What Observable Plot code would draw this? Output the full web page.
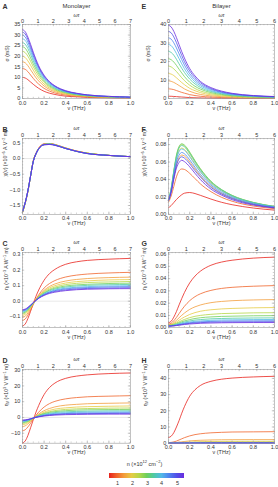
<!DOCTYPE html>
<html><head><meta charset="utf-8">
<script src="https://cdn.jsdelivr.net/npm/d3@7"></script>
<script src="https://cdn.jsdelivr.net/npm/@observablehq/plot@0.6"></script>
<style>
body{margin:0;background:#fff;}
#fig{position:relative;width:278px;height:487px;overflow:hidden;background:#fff;font-family:"Liberation Sans",Arial,sans-serif;color:#333;}
#fig > svg, #fig > div{position:absolute;}
#legendLabel{font-size:5.5px;text-align:center;white-space:nowrap;}
#legendLabel sup{font-size:4px;line-height:0;}
</style></head><body><div id="fig"></div>
<script>
// ---------- data ----------
const nu = [0, 0.025, 0.05, 0.075, 0.1, 0.125, 0.15, 0.2, 0.25, 0.3, 0.4, 0.5, 0.6, 0.8, 1.0];
const nVals = [0.5, 1, 1.5, 2, 2.5, 3, 3.5, 4, 4.5, 5, 5.5];

const sigmaMono = [
 [10, 9.7, 8.9, 7.8, 6.7, 5.7, 4.8, 3.4, 2.5, 1.9, 1.1, 0.8, 0.5, 0.3, 0.2],
 [14.2, 13.8, 12.7, 11.1, 9.5, 8.0, 6.8, 4.8, 3.5, 2.6, 1.6, 1.1, 0.8, 0.4, 0.3],
 [17.4, 16.9, 15.5, 13.6, 11.7, 9.8, 8.3, 5.9, 4.3, 3.2, 2.0, 1.3, 0.9, 0.5, 0.3],
 [20, 19.4, 17.8, 15.7, 13.4, 11.3, 9.5, 6.8, 4.9, 3.7, 2.3, 1.5, 1.1, 0.6, 0.4],
 [22.4, 21.7, 20.0, 17.6, 15.0, 12.7, 10.7, 7.6, 5.5, 4.1, 2.5, 1.7, 1.2, 0.7, 0.4],
 [24.5, 23.8, 21.8, 19.2, 16.4, 13.9, 11.7, 8.3, 6.0, 4.5, 2.8, 1.8, 1.3, 0.8, 0.5],
 [26.5, 25.7, 23.6, 20.8, 17.8, 15.0, 12.6, 9.0, 6.5, 4.9, 3.0, 2.0, 1.4, 0.8, 0.5],
 [28.3, 27.5, 25.2, 22.2, 19.0, 16.0, 13.5, 9.6, 7.0, 5.2, 3.2, 2.1, 1.5, 0.9, 0.6],
 [30, 29.1, 26.7, 23.5, 20.1, 17.0, 14.3, 10.1, 7.4, 5.6, 3.4, 2.3, 1.6, 0.9, 0.6],
 [31.4, 30.5, 28.0, 24.6, 21.1, 17.8, 14.9, 10.6, 7.7, 5.8, 3.5, 2.4, 1.7, 1.0, 0.6],
 [32.6, 31.6, 29.0, 25.6, 21.9, 18.5, 15.5, 11.0, 8.0, 6.0, 3.7, 2.5, 1.7, 1.0, 0.7]
];
const sigmaBi = [
 [1.2, 1.2, 1.1, 1.0, 0.9, 0.8, 0.7, 0.5, 0.4, 0.3, 0.2, 0.1, 0.1, 0.05, 0.03],
 [5.2, 5.1, 4.8, 4.3, 3.8, 3.3, 2.9, 2.1, 1.6, 1.2, 0.8, 0.5, 0.4, 0.2, 0.14],
 [9.5, 9.3, 8.7, 7.9, 7.0, 6.1, 5.2, 3.9, 2.9, 2.2, 1.4, 1.0, 0.7, 0.4, 0.26],
 [13.5, 13.2, 12.4, 11.2, 9.9, 8.6, 7.5, 5.5, 4.2, 3.2, 2.0, 1.4, 1.0, 0.6, 0.36],
 [17.5, 17.1, 16.0, 14.6, 12.9, 11.2, 9.7, 7.2, 5.4, 4.1, 2.6, 1.8, 1.3, 0.7, 0.47],
 [21.5, 21.0, 19.7, 17.9, 15.8, 13.8, 11.9, 8.8, 6.6, 5.1, 3.2, 2.2, 1.5, 0.9, 0.58],
 [25.5, 24.9, 23.4, 21.2, 18.7, 16.3, 14.1, 10.5, 7.9, 6.0, 3.8, 2.6, 1.8, 1.1, 0.69],
 [29.2, 28.6, 26.8, 24.3, 21.5, 18.7, 16.1, 12.0, 9.0, 6.9, 4.3, 2.9, 2.1, 1.2, 0.79],
 [32.8, 32.1, 30.1, 27.3, 24.1, 21.0, 18.1, 13.4, 10.1, 7.7, 4.9, 3.3, 2.3, 1.4, 0.89],
 [36.3, 35.5, 33.3, 30.2, 26.7, 23.2, 20.0, 14.9, 11.2, 8.6, 5.4, 3.6, 2.6, 1.5, 0.98],
 [39.6, 38.7, 36.3, 32.9, 29.1, 25.3, 21.9, 16.2, 12.2, 9.3, 5.9, 4.0, 2.8, 1.6, 1.07]
];
const chiMono = [
 [-1.73, -1.43, -1.05, -0.55, -0.07, 0.17, 0.33, 0.47, 0.48, 0.45, 0.34, 0.24, 0.17, 0.10, 0.06],
 [-1.72, -1.43, -1.05, -0.55, -0.07, 0.17, 0.33, 0.46, 0.48, 0.44, 0.33, 0.24, 0.17, 0.10, 0.06],
 [-1.72, -1.42, -1.04, -0.55, -0.08, 0.16, 0.32, 0.46, 0.47, 0.44, 0.33, 0.24, 0.17, 0.10, 0.06],
 [-1.71, -1.42, -1.04, -0.55, -0.08, 0.16, 0.32, 0.45, 0.47, 0.44, 0.33, 0.23, 0.17, 0.10, 0.06],
 [-1.71, -1.42, -1.04, -0.55, -0.08, 0.16, 0.32, 0.45, 0.47, 0.44, 0.33, 0.23, 0.17, 0.10, 0.06],
 [-1.71, -1.42, -1.04, -0.55, -0.08, 0.16, 0.32, 0.45, 0.47, 0.44, 0.33, 0.23, 0.17, 0.10, 0.06],
 [-1.70, -1.41, -1.03, -0.55, -0.09, 0.15, 0.31, 0.45, 0.46, 0.43, 0.32, 0.23, 0.16, 0.10, 0.06],
 [-1.70, -1.41, -1.03, -0.55, -0.09, 0.15, 0.31, 0.45, 0.46, 0.43, 0.32, 0.23, 0.16, 0.10, 0.06],
 [-1.70, -1.41, -1.03, -0.55, -0.09, 0.15, 0.31, 0.44, 0.46, 0.43, 0.32, 0.23, 0.16, 0.10, 0.06],
 [-1.70, -1.41, -1.03, -0.55, -0.09, 0.15, 0.31, 0.44, 0.45, 0.43, 0.32, 0.23, 0.16, 0.10, 0.06],
 [-1.69, -1.40, -1.02, -0.55, -0.09, 0.15, 0.31, 0.44, 0.45, 0.42, 0.32, 0.23, 0.16, 0.10, 0.06]
];
const chiBi = [
 [0.0075, 0.0100, 0.0135, 0.0170, 0.0200, 0.0225, 0.0242, 0.0250, 0.0238, 0.0218, 0.0175, 0.0138, 0.0110, 0.0072, 0.0048],
 [0.014, 0.021, 0.032, 0.043, 0.050, 0.052, 0.0515, 0.047, 0.041, 0.035, 0.026, 0.0195, 0.015, 0.0095, 0.0065],
 [0.016, 0.026, 0.042, 0.057, 0.065, 0.068, 0.067, 0.060, 0.052, 0.044, 0.032, 0.024, 0.0185, 0.0115, 0.0078],
 [0.016, 0.028, 0.047, 0.064, 0.073, 0.076, 0.0745, 0.067, 0.058, 0.049, 0.036, 0.027, 0.0205, 0.013, 0.0086],
 [0.016, 0.029, 0.049, 0.067, 0.077, 0.080, 0.0785, 0.0705, 0.061, 0.052, 0.0375, 0.028, 0.0215, 0.0135, 0.009],
 [0.016, 0.030, 0.050, 0.068, 0.078, 0.081, 0.0795, 0.0715, 0.0615, 0.0525, 0.038, 0.0285, 0.0218, 0.0137, 0.0091],
 [0.016, 0.029, 0.049, 0.066, 0.076, 0.079, 0.0775, 0.0695, 0.060, 0.051, 0.037, 0.028, 0.0213, 0.0134, 0.0089],
 [0.016, 0.028, 0.047, 0.063, 0.072, 0.075, 0.0735, 0.066, 0.057, 0.049, 0.035, 0.0265, 0.0203, 0.0128, 0.0085],
 [0.016, 0.027, 0.045, 0.060, 0.068, 0.071, 0.0695, 0.0625, 0.054, 0.046, 0.0335, 0.025, 0.0192, 0.0121, 0.0081],
 [0.016, 0.026, 0.042, 0.056, 0.0635, 0.066, 0.0645, 0.058, 0.050, 0.043, 0.031, 0.0233, 0.018, 0.0113, 0.0076],
 [0.016, 0.025, 0.040, 0.053, 0.0595, 0.062, 0.0605, 0.0545, 0.047, 0.040, 0.029, 0.022, 0.0168, 0.0106, 0.0072]
];
const etaIMono = [
 [-0.160, -0.147, -0.112, -0.065, -0.015, 0.032, 0.072, 0.135, 0.178, 0.205, 0.238, 0.254, 0.263, 0.271, 0.276],
 [-0.125, -0.115, -0.090, -0.057, -0.021, 0.013, 0.041, 0.085, 0.114, 0.133, 0.156, 0.168, 0.175, 0.182, 0.186],
 [-0.105, -0.097, -0.076, -0.048, -0.018, 0.010, 0.034, 0.070, 0.095, 0.111, 0.130, 0.140, 0.146, 0.152, 0.155],
 [-0.092, -0.085, -0.066, -0.041, -0.014, 0.010, 0.032, 0.064, 0.086, 0.100, 0.117, 0.126, 0.131, 0.137, 0.139],
 [-0.083, -0.077, -0.060, -0.037, -0.013, 0.010, 0.029, 0.059, 0.078, 0.091, 0.107, 0.115, 0.120, 0.124, 0.127],
 [-0.077, -0.071, -0.056, -0.034, -0.012, 0.009, 0.026, 0.053, 0.072, 0.084, 0.098, 0.105, 0.109, 0.114, 0.116],
 [-0.071, -0.066, -0.051, -0.032, -0.011, 0.008, 0.025, 0.050, 0.067, 0.078, 0.091, 0.098, 0.102, 0.106, 0.108],
 [-0.066, -0.061, -0.048, -0.030, -0.010, 0.007, 0.023, 0.046, 0.061, 0.072, 0.084, 0.090, 0.094, 0.098, 0.100],
 [-0.062, -0.057, -0.045, -0.028, -0.010, 0.007, 0.021, 0.043, 0.058, 0.068, 0.079, 0.085, 0.088, 0.092, 0.094],
 [-0.058, -0.054, -0.042, -0.026, -0.009, 0.006, 0.020, 0.040, 0.054, 0.063, 0.073, 0.079, 0.082, 0.085, 0.087],
 [-0.055, -0.051, -0.040, -0.025, -0.009, 0.005, 0.018, 0.037, 0.050, 0.058, 0.068, 0.074, 0.077, 0.080, 0.081]
];
const etaIBi = [
 [0.0040, 0.0052, 0.0086, 0.0132, 0.0186, 0.0238, 0.0286, 0.0365, 0.0421, 0.0460, 0.0509, 0.0535, 0.0550, 0.0567, 0.0575],
 [0.0030, 0.0037, 0.0057, 0.0084, 0.0115, 0.0146, 0.0174, 0.0220, 0.0253, 0.0276, 0.0304, 0.0320, 0.0329, 0.0338, 0.0343],
 [0.0025, 0.0030, 0.0042, 0.0060, 0.0081, 0.0101, 0.0119, 0.0149, 0.0170, 0.0185, 0.0204, 0.0214, 0.0220, 0.0226, 0.0229],
 [0.0022, 0.0025, 0.0034, 0.0047, 0.0061, 0.0075, 0.0087, 0.0108, 0.0123, 0.0134, 0.0146, 0.0153, 0.0157, 0.0162, 0.0164],
 [0.0020, 0.0022, 0.0029, 0.0038, 0.0048, 0.0058, 0.0067, 0.0082, 0.0093, 0.0100, 0.0109, 0.0115, 0.0117, 0.0121, 0.0122],
 [0.0018, 0.0020, 0.0025, 0.0032, 0.0040, 0.0048, 0.0055, 0.0066, 0.0075, 0.0081, 0.0088, 0.0092, 0.0094, 0.0097, 0.0098],
 [0.0016, 0.0017, 0.0021, 0.0027, 0.0033, 0.0040, 0.0046, 0.0055, 0.0062, 0.0066, 0.0072, 0.0075, 0.0077, 0.0079, 0.0080],
 [0.0015, 0.0016, 0.0019, 0.0024, 0.0029, 0.0034, 0.0039, 0.0046, 0.0052, 0.0055, 0.0060, 0.0063, 0.0064, 0.0066, 0.0067],
 [0.0014, 0.0015, 0.0018, 0.0021, 0.0026, 0.0030, 0.0034, 0.0040, 0.0044, 0.0048, 0.0051, 0.0054, 0.0055, 0.0056, 0.0057],
 [0.0013, 0.0014, 0.0016, 0.0019, 0.0023, 0.0026, 0.0030, 0.0035, 0.0039, 0.0041, 0.0045, 0.0046, 0.0047, 0.0048, 0.0049],
 [0.0012, 0.0013, 0.0015, 0.0017, 0.0020, 0.0023, 0.0026, 0.0030, 0.0033, 0.0036, 0.0038, 0.0040, 0.0041, 0.0042, 0.0042]
];
const etaVMono = [
 [-16.3, -14.9, -11.4, -6.5, -1.4, 3.4, 7.6, 14.5, 19.0, 21.8, 24.8, 26.2, 27.0, 27.8, 28.2],
 [-8.5, -7.8, -6.0, -3.6, -1.0, 1.4, 3.4, 6.6, 8.8, 10.2, 11.8, 12.6, 13.1, 13.5, 13.8],
 [-5.8, -5.3, -4.1, -2.5, -0.8, 0.8, 2.2, 4.3, 5.7, 6.7, 7.8, 8.3, 8.7, 9.0, 9.2],
 [-4.6, -4.2, -3.3, -2.0, -0.6, 0.6, 1.7, 3.4, 4.5, 5.3, 6.1, 6.6, 6.85, 7.1, 7.3],
 [-3.8, -3.5, -2.7, -1.6, -0.5, 0.5, 1.4, 2.8, 3.7, 4.35, 5.1, 5.45, 5.65, 5.9, 6.0],
 [-3.3, -3.0, -2.4, -1.4, -0.5, 0.4, 1.2, 2.4, 3.2, 3.7, 4.3, 4.65, 4.85, 5.0, 5.1],
 [-2.8, -2.6, -2.0, -1.2, -0.4, 0.3, 1.0, 2.0, 2.6, 3.1, 3.6, 3.85, 4.0, 4.2, 4.25],
 [-2.4, -2.2, -1.7, -1.1, -0.4, 0.25, 0.8, 1.6, 2.2, 2.6, 3.0, 3.25, 3.4, 3.5, 3.6],
 [-2.1, -1.9, -1.5, -1.0, -0.4, 0.2, 0.6, 1.35, 1.8, 2.15, 2.5, 2.7, 2.8, 2.95, 3.0],
 [-1.9, -1.75, -1.4, -0.9, -0.4, 0.1, 0.5, 1.15, 1.55, 1.85, 2.2, 2.35, 2.45, 2.55, 2.6],
 [-1.6, -1.5, -1.2, -0.8, -0.35, 0.05, 0.4, 0.9, 1.25, 1.5, 1.8, 1.9, 2.0, 2.1, 2.1]
];
const etaVBi = [
 [3.5, 4.3, 6.5, 10.0, 14.0, 18.5, 22.5, 29.0, 33.0, 35.6, 38.2, 39.5, 40.2, 40.9, 41.3],
 [0.4, 0.5, 0.8, 1.3, 2.0, 2.7, 3.4, 4.5, 5.3, 5.8, 6.4, 6.7, 6.9, 7.0, 7.1],
 [0.2, 0.2, 0.3, 0.45, 0.65, 0.85, 1.05, 1.4, 1.65, 1.8, 2.0, 2.1, 2.15, 2.2, 2.2],
 [0.1, 0.1, 0.15, 0.25, 0.35, 0.45, 0.55, 0.7, 0.85, 0.95, 1.05, 1.1, 1.12, 1.15, 1.15],
 [0.08, 0.09, 0.11, 0.15, 0.2, 0.26, 0.31, 0.4, 0.47, 0.52, 0.58, 0.61, 0.63, 0.65, 0.66],
 [0.06, 0.07, 0.08, 0.11, 0.14, 0.18, 0.21, 0.27, 0.32, 0.35, 0.39, 0.41, 0.42, 0.43, 0.44],
 [0.05, 0.05, 0.06, 0.08, 0.1, 0.13, 0.15, 0.19, 0.22, 0.24, 0.27, 0.28, 0.29, 0.3, 0.3],
 [0.04, 0.04, 0.05, 0.06, 0.08, 0.1, 0.11, 0.14, 0.16, 0.18, 0.2, 0.21, 0.21, 0.22, 0.22],
 [0.03, 0.03, 0.04, 0.05, 0.06, 0.07, 0.08, 0.1, 0.12, 0.13, 0.14, 0.15, 0.15, 0.16, 0.16],
 [0.02, 0.02, 0.03, 0.04, 0.05, 0.05, 0.06, 0.08, 0.09, 0.1, 0.11, 0.11, 0.12, 0.12, 0.12],
 [0.02, 0.02, 0.02, 0.03, 0.03, 0.04, 0.05, 0.06, 0.07, 0.07, 0.08, 0.08, 0.09, 0.09, 0.09]
];

const xTicks = [0, 0.2, 0.4, 0.6, 0.8, 1.0];
const wtTicksMono = [0, 1, 2, 3, 4, 5, 6, 7];
const wtTicksBi = [0, 1, 2, 3, 4, 5, 6];
const yTicksA = [0, 5, 10, 15, 20, 25, 30, 35];
const yTicksE = [0, 10, 20, 30, 40];
const yTicksB = [-1.5, -1.0, -0.5, 0.0, 0.5];
const yTicksF = [0, 0.02, 0.04, 0.06, 0.08];
const yTicksC = [-0.1, 0.0, 0.1, 0.2, 0.3];
const yTicksG = [0, 0.01, 0.02, 0.03, 0.04, 0.05, 0.06];
const yTicksD = [-10, 0, 10, 20, 30];
const yTicksH = [0, 10, 20, 30, 40];
const legendTicks = [1, 2, 3, 4, 5];
const colorStops = ["#e8231d", "#f0652b", "#f39d3b", "#e6cc44", "#b5d748", "#6fcf5b", "#4fcaa6", "#52b9e8", "#4f84ef", "#5152e8", "#6a2ddf"];

// ---------- rendering ----------
const fig = document.getElementById("fig");
const colorScale = {type: "linear", domain: [0.5, 5.5], interpolate: d3.piecewise(d3.interpolateRgb, colorStops)};
const FONT = "'Liberation Sans', Arial, sans-serif";

function toRows(series) {
  return series.flatMap((vals, i) => vals.map((v, j) => ({nu: nu[j], v, n: nVals[i]})));
}

function richText(svg) {
  d3.select(svg).selectAll("text").each(function () {
    const s = this.textContent;
    if (!/[\^_]\{/.test(s)) return;
    const fs = parseFloat(getComputedStyle(this).fontSize) || 5.5;
    const el = d3.select(this);
    el.text(null);
    const re = /([\^_])\{([^}]*)\}/g;
    let last = 0, m, shift = 0;
    const add = (txt, kind) => {
      if (!txt) return;
      const t = el.append("tspan").text(txt);
      const target = kind === "^" ? -0.38 * fs : kind === "_" ? 0.25 * fs : 0;
      const d = target - shift;
      if (d) t.attr("dy", d);
      shift = target;
      if (kind) t.attr("font-size", 0.72 * fs);
    };
    while ((m = re.exec(s))) { add(s.slice(last, m.index), null); add(m[2], m[1]); last = re.lastIndex; }
    add(s.slice(last), null);
  });
}

const rowsY = [[24.3, 98.3], [137.7, 213.5], [252.3, 327.5], [369.3, 443]];
const colsX = [[22, 130], [168, 274]];

const yLabSigma = "σ (mS)";
const yLabChi = "χ(ν) (×10^{−6} A V^{−2} m)";
const yLabEtaI = "η_{I} (×10^{−3} A W^{−1} m)";
const yLabEtaV = "η_{V} (×10^{3} V W^{−1} m)";

const panels = [
  {col: 0, row: 0, series: sigmaMono, yDomain: [0, 35], yTicks: yTicksA, yFmt: "d", yMinor: 1, wtMax: 7, wtTicks: wtTicksMono, letter: "A", title: "Monolayer", yLabel: yLabSigma, zero: false, labDx: -15},
  {col: 1, row: 0, series: sigmaBi, yDomain: [0, 40], yTicks: yTicksE, yFmt: "d", yMinor: 2, wtMax: 6, wtTicks: wtTicksBi, letter: "E", title: "Bilayer", yLabel: yLabSigma, zero: false, labDx: -20.5},
  {col: 0, row: 1, series: chiMono, yDomain: [-1.78, 0.64], yTicks: yTicksB, yFmt: ".1f", yMinor: 0.1, wtMax: 7, wtTicks: wtTicksMono, letter: "B", yLabel: yLabChi, zero: true, labDx: -17},
  {col: 1, row: 1, series: chiBi, yDomain: [0, 0.087], yTicks: yTicksF, yFmt: ".2f", yMinor: 0.005, wtMax: 6, wtTicks: wtTicksBi, letter: "F", yLabel: yLabChi, zero: false, labDx: -24},
  {col: 0, row: 2, series: etaIMono, yDomain: [-0.171, 0.314], yTicks: yTicksC, yFmt: ".1f", yMinor: 0.02, wtMax: 7, wtTicks: wtTicksMono, letter: "C", yLabel: yLabEtaI, zero: true, labDx: -16},
  {col: 1, row: 2, series: etaIBi, yDomain: [0, 0.0613], yTicks: yTicksG, yFmt: ".2f", yMinor: 0.0025, wtMax: 6, wtTicks: wtTicksBi, letter: "G", yLabel: yLabEtaI, zero: false, labDx: -24},
  {col: 0, row: 3, series: etaVMono, yDomain: [-16.3, 30.4], yTicks: yTicksD, yFmt: "d", yMinor: 2, wtMax: 7, wtTicks: wtTicksMono, letter: "D", yLabel: yLabEtaV, zero: true, labDx: -16},
  {col: 1, row: 3, series: etaVBi, yDomain: [0, 45.5], yTicks: yTicksH, yFmt: "d", yMinor: 2, wtMax: 6, wtTicks: wtTicksBi, letter: "H", yLabel: yLabEtaV, zero: false, labDx: -23}
];

for (const p of panels) {
  const [fl, fr] = colsX[p.col];
  const [ft, fb] = rowsY[p.row];
  const svgLeft = p.col === 0 ? 0 : 139;
  const W = 139, mt = 24, mb = 15;
  const ml = fl - svgLeft, mr = svgLeft + W - fr;
  const innerW = fr - fl, innerH = fb - ft;
  const tk = {stroke: "#9a9a9a", strokeWidth: 0.5};
  const wtPos = p.wtTicks.map(t => t / p.wtMax);
  const wtMinor = d3.range(0, p.wtMax * 5 + 1).map(k => k / (p.wtMax * 5));
  const xMinor = d3.range(0, 21).map(k => k / 20);
  const y0 = Math.ceil(p.yDomain[0] / p.yMinor - 1e-6), y1 = Math.floor(p.yDomain[1] / p.yMinor + 1e-6);
  const yMinor = d3.range(y0, y1 + 1).map(k => k * p.yMinor);
  const MAJ = 2.2, MIN = 1.2;
  const marks = [];
  if (p.zero) marks.push(Plot.ruleY([0], {stroke: "#d8d8d8", strokeWidth: 0.6}));
  marks.push(Plot.line(toRows(p.series), {x: "nu", y: "v", z: "n", stroke: "n", strokeWidth: 0.8, curve: "monotone-x"}));
  // inward frame ticks
  marks.push(Plot.tickX(xTicks, {x: d => d, insetTop: innerH - MAJ, ...tk}));
  marks.push(Plot.tickX(xMinor, {x: d => d, insetTop: innerH - MIN, ...tk}));
  marks.push(Plot.tickX(wtPos, {x: d => d, insetBottom: innerH - MAJ, ...tk}));
  marks.push(Plot.tickX(wtMinor, {x: d => d, insetBottom: innerH - MIN, ...tk}));
  marks.push(Plot.tickY(p.yTicks, {y: d => d, insetRight: innerW - MAJ, ...tk}));
  marks.push(Plot.tickY(yMinor, {y: d => d, insetRight: innerW - MIN, ...tk}));
  marks.push(Plot.tickY(p.yTicks, {y: d => d, insetLeft: innerW - MAJ, ...tk}));
  marks.push(Plot.tickY(yMinor, {y: d => d, insetLeft: innerW - MIN, ...tk}));
  marks.push(Plot.frame({stroke: "#9a9a9a", strokeWidth: 0.6}));
  // axes (labels only)
  marks.push(Plot.axisX(xTicks, {anchor: "bottom", tickSize: 0, tickPadding: 2.2, tickFormat: ".1f", label: null}));
  marks.push(Plot.axisX(wtPos, {anchor: "top", tickSize: 0, tickPadding: 1.6, tickFormat: (d, i) => String(p.wtTicks[i]), label: null}));
  marks.push(Plot.axisY(p.yTicks, {anchor: "left", tickSize: 0, tickPadding: 2.2, tickFormat: p.yFmt, label: null}));
  // texts
  marks.push(Plot.text(["ν (THz)"], {frameAnchor: "bottom", dy: 11.2, fontSize: 5.5}));
  marks.push(Plot.text(["ωτ"], {frameAnchor: "top", dy: p.row === 0 ? -10.8 : -11.8, fontSize: 5.3, fontStyle: "italic"}));
  marks.push(Plot.text([p.yLabel], {frameAnchor: "left", dx: p.labDx, rotate: -90, fontSize: 5.2}));
  marks.push(Plot.text([p.letter], {frameAnchor: "top-left", dx: -(ml - 2), dy: p.row === 0 ? -20.3 : -11, textAnchor: "start", fontWeight: "bold", fontSize: 7}));
  if (p.title) marks.push(Plot.text([p.title], {frameAnchor: "top", dy: -20.6, fontSize: 6}));

  const svg = Plot.plot({
    width: W, height: innerH + mt + mb,
    marginLeft: ml, marginRight: mr, marginTop: mt, marginBottom: mb,
    x: {domain: [0, 1]},
    y: {domain: p.yDomain},
    color: colorScale,
    style: {background: "transparent", fontSize: "5.5px", fontFamily: FONT, color: "#333", overflow: "visible"},
    marks
  });
  svg.style.left = svgLeft + "px";
  svg.style.top = (ft - mt) + "px";
  fig.appendChild(svg);
  richText(svg);
}

// colour bar legend
const leg = Plot.legend({
  color: colorScale,
  width: 95, height: 15, marginTop: 0, marginBottom: 10, marginLeft: 10, marginRight: 10,
  ticks: legendTicks, tickSize: 0, tickFormat: "d", label: null,
  style: {background: "transparent", fontSize: "5.5px", fontFamily: FONT, color: "#333"}
});
d3.select(leg).selectAll(".tick line").remove();
leg.style.left = "99px";
leg.style.top = "472.5px";
fig.appendChild(leg);

const lab = document.createElement("div");
lab.id = "legendLabel";
lab.style.left = "102px"; lab.style.top = "460.5px"; lab.style.width = "85px";
lab.innerHTML = "n (×10<sup>12</sup> cm<sup>−2</sup>)";
fig.appendChild(lab);
</script></body></html>
